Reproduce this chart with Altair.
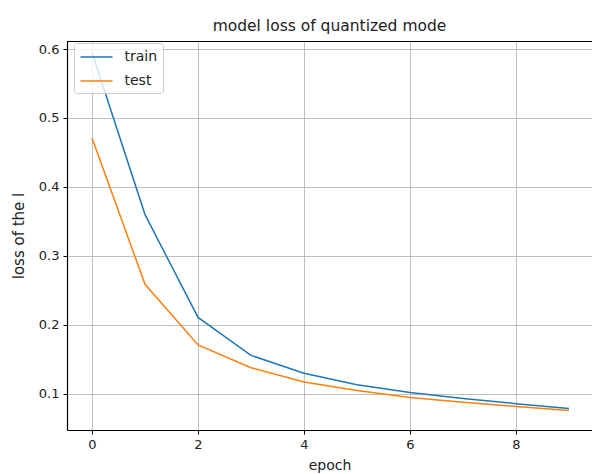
import altair as alt
import pandas as pd

epochs = [0, 1, 2, 3, 4, 5, 6, 7, 8, 9]
train_loss = [0.595, 0.360, 0.211, 0.156, 0.130, 0.1135, 0.102, 0.0935, 0.086, 0.079]
test_loss = [0.471, 0.259, 0.171, 0.138, 0.1175, 0.105, 0.095, 0.088, 0.082, 0.076]
series_names = ["train", "test"]
series_colors = ["#1f77b4", "#ff7f0e"]

rows = []
for name, vals in zip(series_names, [train_loss, test_loss]):
    for e, v in zip(epochs, vals):
        rows.append({"epoch": e, "loss": v, "series": name})
df = pd.DataFrame(rows)

font = "DejaVu Sans"
W, H = 525, 389

lines = alt.Chart(df).mark_line(strokeWidth=1.5, clip=True).encode(
    x=alt.X("epoch:Q", scale=alt.Scale(domain=[-0.472, 9.434], nice=False, zero=False),
            axis=alt.Axis(values=[0, 2, 4, 6, 8], title="epoch", format="d",
                          titleFontSize=14, titlePadding=7)),
    y=alt.Y("loss:Q", scale=alt.Scale(domain=[0.0478, 0.6116], nice=False, zero=False),
            axis=alt.Axis(values=[0.1, 0.2, 0.3, 0.4, 0.5, 0.6], title="loss of the l", format=".1f",
                          titleFontSize=15, titlePadding=12)),
    color=alt.Color("series:N", sort=series_names,
                    scale=alt.Scale(domain=series_names, range=series_colors),
                    legend=alt.Legend(title=None, orient="none", legendX=7, legendY=2,
                                      symbolType="M-2,0L2,0", symbolSize=256, symbolStrokeWidth=1.5,
                                      symbolOffset=8.5,
                                      labelFont=font, labelFontSize=14, labelColor="#222",
                                      labelOffset=19,
                                      fillColor="rgba(255,255,255,0.8)", strokeColor="#cccccc",
                                      cornerRadius=3, padding=5, rowPadding=8)),
)

top_spine = alt.Chart(df).mark_rule(color="black", strokeWidth=1).encode(
    x=alt.value(0), x2=alt.value(W), y=alt.value(0.5)
)

chart = alt.layer(lines, top_spine).properties(
    width=W, height=H,
    title=alt.TitleParams("model loss of quantized mode", font=font, fontSize=15.5,
                          fontWeight="normal", color="#222", offset=7),
    padding={"left": 67, "top": 41, "right": 0, "bottom": 44},
    autosize="none",
).configure_view(
    strokeWidth=0
).configure_axis(
    labelFont=font, labelFontSize=13, labelColor="#222",
    titleFont=font, titleFontWeight="normal", titleColor="#222",
    grid=True, gridColor="#b0b0b0", gridWidth=0.8,
    domainColor="black", domainWidth=1.2,
    tickColor="black", tickSize=4, tickWidth=1, labelPadding=4,
)

chart.save("out.html", embed_options={"renderer": "svg", "actions": False})
